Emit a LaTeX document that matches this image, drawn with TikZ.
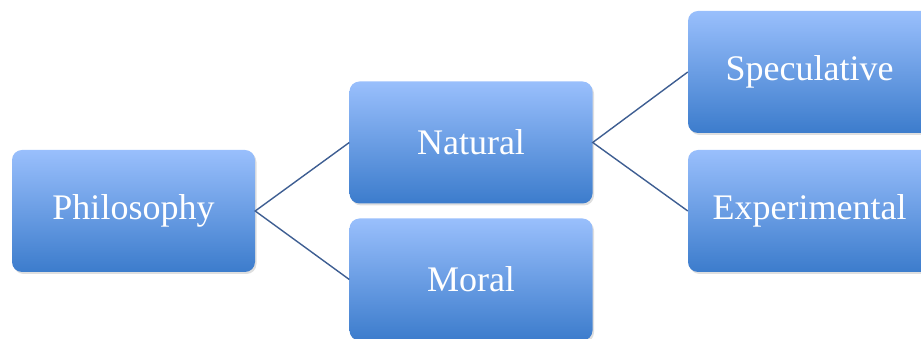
\documentclass[tikz,border=0pt]{standalone}
\usepackage{fontspec}
\setmainfont{Liberation Serif}
\usetikzlibrary{shadows}
\definecolor{boxtop}{RGB}{153,191,252}
\definecolor{boxbot}{RGB}{60,124,204}
\definecolor{linkcol}{RGB}{62,94,146}
\begin{document}
\begin{tikzpicture}[x=1pt,y=1pt,
  topic/.style={rectangle,rounded corners=10pt,minimum width=243pt,minimum height=122pt,inner sep=0pt,
    top color=boxtop,bottom color=boxbot,text=white,font=\fontsize{36}{42}\selectfont,
    drop shadow={opacity=0.25,shadow xshift=1.5pt,shadow yshift=-2pt}},
  link/.style={draw=linkcol,line width=1.4pt}]
\useasboundingbox (0,0) rectangle (921,339);
\node[topic] (phil) at (133.5,128) {Philosophy};
\node[topic] (nat) at (471,196.5) {Natural};
\node[topic] (mor) at (471,59.5) {Moral};
\node[topic] (spec) at (809.5,267) {Speculative};
\node[topic] (exp) at (809.5,128) {Experimental};
\draw[link] (nat.west) -- (phil.east) -- (mor.west);
\draw[link] (spec.west) -- (nat.east) -- (exp.west);
\end{tikzpicture}
\end{document}
